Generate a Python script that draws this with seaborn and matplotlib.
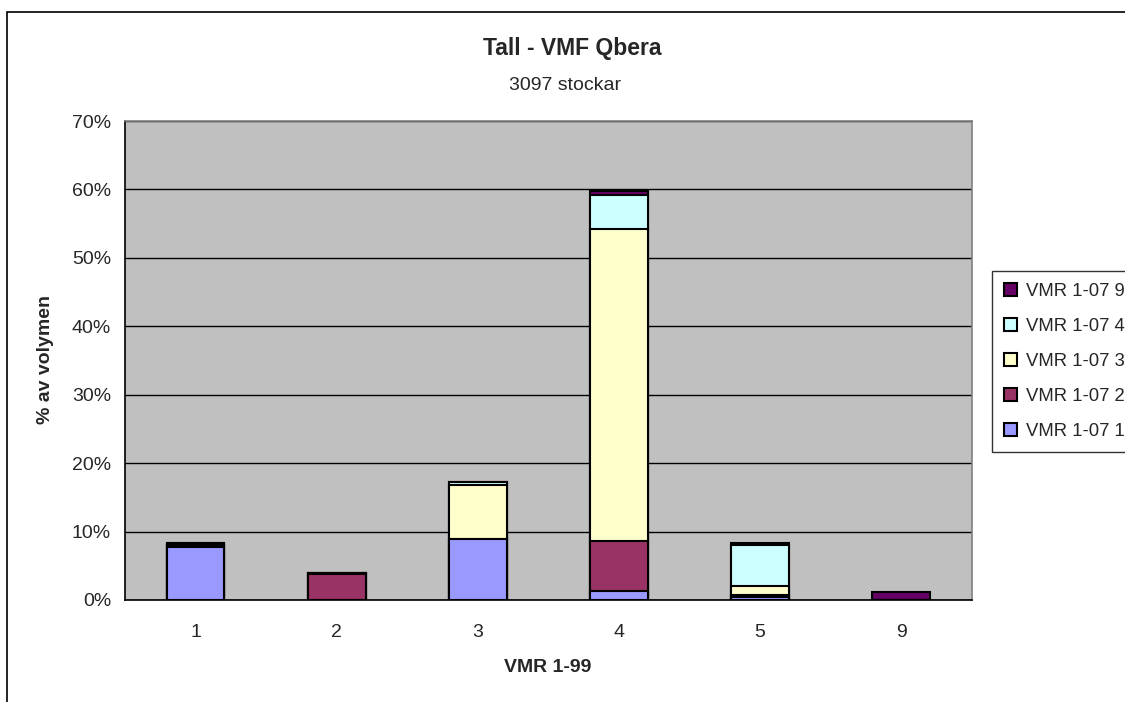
import numpy as np
import pandas as pd
import matplotlib
matplotlib.use("Agg")
import matplotlib.pyplot as plt
from matplotlib.patches import Rectangle
from matplotlib.ticker import FixedLocator
import seaborn as sns

# Categories (VMR 1-99 classes) and stacked series (% of volume per VMR 1-07 class)
categories = ["1", "2", "3", "4", "5", "9"]
series_names = ["VMR 1-07 1", "VMR 1-07 2", "VMR 1-07 3", "VMR 1-07 4", "VMR 1-07 9"]
vmr07_1 = [7.8, 0.0, 8.9, 1.3, 0.4, 0.0]
vmr07_2 = [0.3, 3.8, 0.0, 7.3, 0.4, 0.0]
vmr07_3 = [0.1, 0.1, 7.9, 45.6, 1.3, 0.0]
vmr07_4 = [0.1, 0.1, 0.5, 5.0, 5.9, 0.0]
vmr07_9 = [0.0, 0.0, 0.0, 0.5, 0.3, 1.1]
series_colors = ["#9999FF", "#993366", "#FFFFCC", "#CCFFFF", "#660066"]
y_ticks = [0, 10, 20, 30, 40, 50, 60, 70]

sns.set_style("white")
plt.rcParams["font.family"] = ["Liberation Sans", "DejaVu Sans"]

fig = plt.figure(figsize=(11.25, 7.02), dpi=100)
ax = fig.add_axes([125 / 1125, 102 / 702, 846.7 / 1125, 479 / 702])
ax.set_facecolor("#C0C0C0")

values = np.array([vmr07_1, vmr07_2, vmr07_3, vmr07_4, vmr07_9])
cumulative = np.cumsum(values, axis=0)

# Stack by drawing cumulative totals from the top series down
for i in reversed(range(len(series_names))):
    df = pd.DataFrame({"cat": categories, "val": cumulative[i]})
    sns.barplot(data=df, x="cat", y="val", order=categories, color=series_colors[i],
                saturation=1, width=0.41, edgecolor="black", linewidth=1.5,
                errorbar=None, label=series_names[i], ax=ax, zorder=3)

handles, labels = ax.get_legend_handles_labels()
if ax.get_legend() is not None:
    ax.get_legend().remove()

ax.set_ylim(0, 70)
ax.set_xlim(-0.5, len(categories) - 0.5)
ax.set_yticks(y_ticks)
ax.set_yticklabels([f"{t}%" for t in y_ticks])
ax.yaxis.grid(True, color="black", linewidth=1.0)
ax.set_axisbelow(True)

# Category labels centred, tick marks on category boundaries
ax.xaxis.set_minor_locator(FixedLocator(np.arange(-0.5, len(categories), 1.0)))
ax.tick_params(axis="x", which="major", length=0, pad=17, labelsize=14)
ax.tick_params(axis="x", which="minor", length=5, width=1, direction="out", color="black")
ax.tick_params(axis="y", length=5, width=1, direction="out", pad=5, labelsize=14, color="black")

for side in ["left", "bottom"]:
    ax.spines[side].set_color("black")
    ax.spines[side].set_linewidth(1.2)
for side in ["top", "right"]:
    ax.spines[side].set_visible(True)
    ax.spines[side].set_color("#808080")
    ax.spines[side].set_linewidth(1.2)

ax.set_xlabel("")
ax.set_ylabel("")
fig.text(548 / 1125, 1 - 668 / 702, "VMR 1-99", ha="center", va="center",
         fontsize=14, fontweight="bold")
fig.text(45 / 1125, 1 - 360 / 702, "% av volymen", ha="center", va="center",
         rotation=90, fontsize=14, fontweight="bold")
fig.text(572 / 1125, 1 - 48 / 702, "Tall - VMF Qbera", ha="center", va="center",
         fontsize=16.5, fontweight="bold")
fig.text(565 / 1125, 1 - 85 / 702, "3097 stockar", ha="center", va="center", fontsize=14)

# Legend, top entry is the top of the stack
leg = fig.legend(handles, labels, loc="upper left",
                 bbox_to_anchor=(992 / 1125, 1 - 271 / 702),
                 frameon=True, fancybox=False, shadow=False, fontsize=13.3,
                 handlelength=0.7, handleheight=0.7, handletextpad=0.5,
                 labelspacing=0.97, borderpad=0.65, borderaxespad=0)
leg.get_frame().set_edgecolor("black")
leg.get_frame().set_linewidth(1.0)

# Chart-area border
fig.patches.append(Rectangle((7 / 1125, -0.1), 1.2, 1 - 12 / 702 + 0.1,
                             transform=fig.transFigure, fill=False,
                             edgecolor="black", linewidth=1.2))

fig.savefig("out.png", dpi=100)
